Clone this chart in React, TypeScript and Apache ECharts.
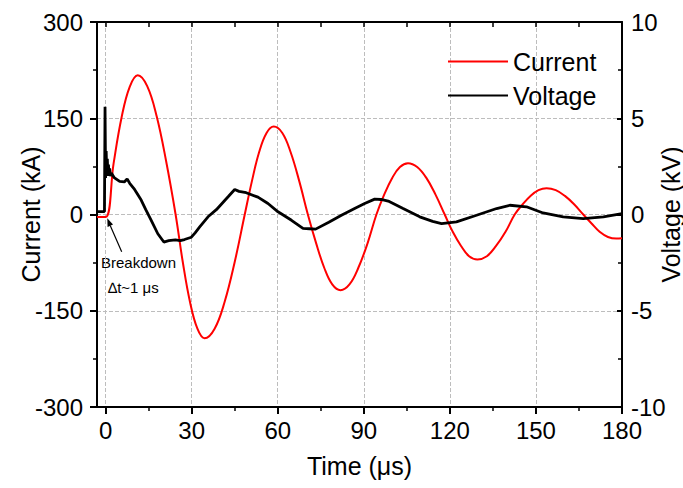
import React, { useEffect, useRef } from "react";
import * as echarts from "echarts";

// Current (kA) vs time (µs)
const currentTime = [
  -3, 0, 2.8, 5.6, 8.4, 11.2, 14.5, 17.8, 21.1, 24.4, 26.9, 29.4, 32.0, 34.5,
  38, 41.5, 45, 48.5, 51, 53.5, 56.1, 58.6, 61.6, 64.5, 67.5, 70.5, 73.4, 76.2,
  79, 81.9, 85, 88.1, 91.3, 94.4, 97.1, 99.9, 102.6, 105.4, 108.6, 111.8, 115,
  118.2, 121, 123.9, 126.7, 129.6, 132.9, 136.1, 139.4, 142.6, 145.4, 148.1,
  150.9, 153.7, 156.9, 160.1, 163.3, 166.5, 169.4, 172.2, 175.1, 178, 180,
];
const currentValues = [
  -4, -4, 80, 152, 199, 217, 200, 153, 83, 0, -74, -136, -178, -193, -178,
  -136, -74, 0, 52, 97, 127, 137, 127, 97, 52, 0, -45, -83, -109, -118, -109,
  -83, -45, 0, 31, 57, 74, 80, 74, 57, 31, 0, -27, -49, -65, -70, -65, -49,
  -27, 0, 16, 29, 38, 41, 38, 29, 16, 0, -14, -27, -35, -37.5, -37,
];

// Voltage (kV) vs time (µs)
const voltageTime = [
  -3, -0.4, -0.2, 0, 0.2, 0.4, 0.6, 0.8, 1.0, 1.2, 1.4, 1.7, 2, 3.1, 4.9, 6.6,
  7.5, 8.4, 10.1, 12.4, 14, 15.9, 18.2, 20.3, 22, 24.3, 26, 27.5, 29.9, 31.2,
  32.8, 35.7, 38.6, 42.7, 45, 46.5, 49, 53.1, 56.6, 60.1, 64.8, 68.8, 71, 73.2,
  77.8, 82.2, 86.8, 90.3, 93.8, 96, 98.5, 103.7, 109.5, 114, 117.1, 122.3,
  129.3, 136.3, 140.9, 146.7, 152.5, 159.5, 166.5, 173.5, 180,
];
const voltageValues = [
  0.15, 0.15, 5.6, 1.9, 3.3, 2.1, 2.9, 2.0, 2.6, 2.0, 2.4, 2.0, 2.15, 1.9, 1.72,
  1.7, 1.85, 1.62, 1.3, 0.75, 0.25, -0.3, -1.0, -1.43, -1.36, -1.32, -1.36,
  -1.3, -1.18, -0.95, -0.64, -0.12, 0.25, 0.92, 1.3, 1.2, 1.13, 0.9, 0.57,
  0.14, -0.3, -0.72, -0.74, -0.76, -0.4, -0.04, 0.31, 0.57, 0.8, 0.78, 0.7,
  0.31, -0.12, -0.36, -0.47, -0.38, -0.04, 0.31, 0.48, 0.4, 0.08, -0.12, -0.21,
  -0.12, 0.05,
];

const xMajorTicks = [0, 30, 60, 90, 120, 150, 180];
const xMinorTicks = [15, 45, 75, 105, 135, 165];
const xTopTicks = [0, 15, 30, 45, 60, 75, 90, 105, 120, 135, 150, 165, 180];

const FONT = "Liberation Sans, Arial, sans-serif";

export default function App() {
  const ref = useRef<HTMLDivElement>(null);

  useEffect(() => {
    if (!ref.current) return;
    const chart = echarts.init(ref.current, undefined, { renderer: "svg" });
    const axisLine = { show: true, onZero: false, lineStyle: { color: "#000", width: 2 } };
    const grid = { type: "dashed" as const, color: "#bdbdbd", width: 1 };
    const option = {
      animation: false,
      backgroundColor: "#fff",
      grid: {
        left: 97,
        right: 61,
        top: 22,
        bottom: 81,
        containLabel: false,
        outerBoundsMode: "none",
      },
      legend: {
        orient: "vertical",
        left: 443,
        top: 44,
        itemWidth: 60,
        itemHeight: 2,
        itemGap: 9,
        selectedMode: false,
        textStyle: { fontSize: 25, color: "#000", fontFamily: FONT },
        data: [
          { name: "Current", icon: "rect" },
          { name: "Voltage", icon: "rect" },
        ],
      },
      xAxis: [
        {
          type: "value",
          position: "bottom",
          min: -3,
          max: 180,
          axisLine,
          axisTick: {
            show: true,
            customValues: xMajorTicks,
            length: 7,
            lineStyle: { color: "#000", width: 2 },
          },
          axisLabel: {
            show: true,
            customValues: xMajorTicks,
            fontSize: 24,
            color: "#000",
            fontFamily: FONT,
            margin: 11,
          },
          splitLine: { show: true, lineStyle: grid },
          name: "Time (\u03bcs)",
          nameLocation: "middle",
          nameGap: 46,
          nameMoveOverlap: false,
          nameTextStyle: { fontSize: 25, color: "#000", fontFamily: FONT },
        },
        {
          type: "value",
          position: "bottom",
          min: -3,
          max: 180,
          axisLine: { show: false, onZero: false },
          axisTick: {
            show: true,
            customValues: xMinorTicks,
            length: 4,
            lineStyle: { color: "#000", width: 1.5 },
          },
          axisLabel: { show: false },
          splitLine: { show: false },
        },
        {
          type: "value",
          position: "top",
          min: -3,
          max: 180,
          axisLine,
          axisTick: {
            show: true,
            inside: true,
            customValues: xTopTicks,
            length: 5,
            lineStyle: { color: "#000", width: 1.5 },
          },
          axisLabel: { show: false },
          splitLine: { show: false },
        },
      ],
      yAxis: [
        {
          type: "value",
          position: "left",
          min: -300,
          max: 300,
          interval: 150,
          axisLine,
          axisTick: { show: true, length: 7, lineStyle: { color: "#000", width: 2 } },
          minorTick: {
            show: true,
            splitNumber: 2,
            length: 4,
            lineStyle: { color: "#000", width: 1.5 },
          },
          axisLabel: { fontSize: 24, color: "#000", fontFamily: FONT, margin: 14 },
          splitLine: { show: true, lineStyle: grid },
          name: "Current (kA)",
          nameLocation: "middle",
          nameGap: 54,
          nameMoveOverlap: false,
          nameTextStyle: { fontSize: 25, color: "#000", fontFamily: FONT },
        },
        {
          type: "value",
          position: "right",
          min: -10,
          max: 10,
          interval: 5,
          axisLine,
          axisTick: {
            show: true,
            inside: true,
            length: 5,
            lineStyle: { color: "#000", width: 2 },
          },
          minorTick: {
            show: true,
            splitNumber: 2,
            length: 4,
            lineStyle: { color: "#000", width: 1.5 },
          },
          axisLabel: { fontSize: 24, color: "#000", fontFamily: FONT, margin: 9 },
          splitLine: { show: false },
          name: "Voltage (kV)",
          nameLocation: "middle",
          nameGap: 36,
          nameMoveOverlap: false,
          nameTextStyle: { fontSize: 25, color: "#000", fontFamily: FONT },
        },
      ],
      series: [
        {
          name: "Current",
          type: "line",
          xAxisIndex: 0,
          yAxisIndex: 0,
          data: currentTime.map((t, i) => [t, currentValues[i]]),
          smooth: 0.4,
          symbol: "none",
          lineStyle: { color: "#ff0000", width: 2 },
          itemStyle: { color: "#ff0000" },
        },
        {
          name: "Voltage",
          type: "line",
          xAxisIndex: 0,
          yAxisIndex: 1,
          data: voltageTime.map((t, i) => [t, voltageValues[i]]),
          symbol: "none",
          lineStyle: { color: "#000", width: 2.8 },
          itemStyle: { color: "#000" },
        },
      ],
      graphic: [
        {
          type: "line",
          shape: { x1: 121.7, y1: 251.7, x2: 110.2, y2: 225.5 },
          style: { stroke: "#000", lineWidth: 1.2 },
        },
        {
          type: "polygon",
          shape: { points: [[107.3, 218.3], [113, 224.6], [107.6, 227]] },
          style: { fill: "#000" },
        },
        {
          type: "text",
          left: 101,
          top: 255,
          style: { text: "Breakdown", fontSize: 15, fill: "#000", fontFamily: FONT },
        },
        {
          type: "text",
          left: 108,
          top: 280,
          style: { text: "\u2206t~1 \u03bcs", fontSize: 15, fill: "#000", fontFamily: FONT },
        },
      ],
    };
    chart.setOption(option as any);
    return () => chart.dispose();
  }, []);

  return (
    <div
      ref={ref}
      style={{ position: "fixed", left: 0, top: 0, width: 683, height: 488, background: "#fff" }}
    />
  );
}
